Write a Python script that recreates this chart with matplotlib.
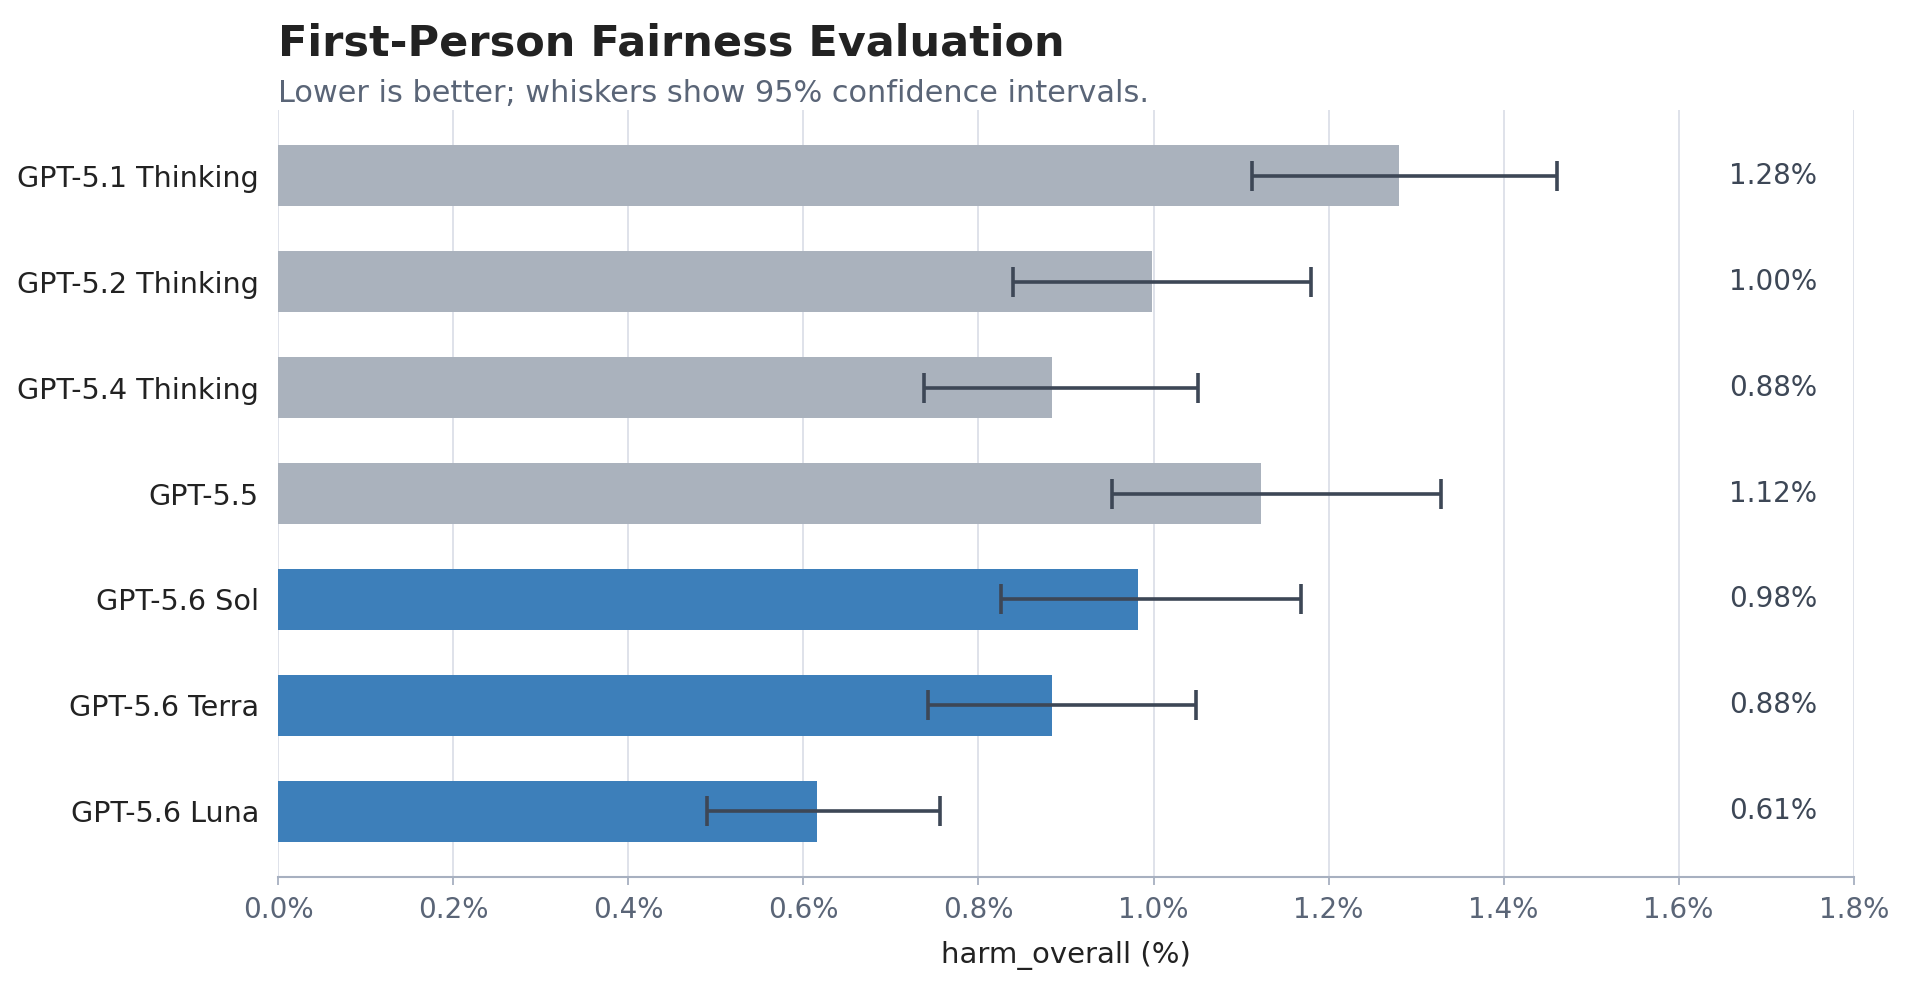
import numpy as np
import matplotlib
matplotlib.use("Agg")
import matplotlib.pyplot as plt

# values (percent)
models = ["GPT-5.1 Thinking", "GPT-5.2 Thinking", "GPT-5.4 Thinking", "GPT-5.5",
          "GPT-5.6 Sol", "GPT-5.6 Terra", "GPT-5.6 Luna"]
harm = [1.281, 0.998, 0.884, 1.123, 0.982, 0.884, 0.615]
ci_low = [1.112, 0.839, 0.738, 0.952, 0.826, 0.742, 0.490]
ci_high = [1.461, 1.180, 1.051, 1.328, 1.169, 1.048, 0.756]
is_new = [False, False, False, False, True, True, True]

grey = "#aab2bd"
blue = "#3d7fba"
dark = "#3d4756"
muted = "#5a6577"

fig = plt.figure(figsize=(19.13, 9.91), dpi=100)
ax = fig.add_axes([0.1455, 0.115, 0.8235, 0.774])

y = np.arange(len(models))
harm = np.array(harm)
err = np.array([harm - np.array(ci_low), np.array(ci_high) - harm])
colors = [blue if n else grey for n in is_new]

ax.barh(y, harm, height=0.58, color=colors, zorder=2)
ax.errorbar(harm, y, xerr=err, fmt="none", ecolor=dark, elinewidth=2.6,
            capsize=11, capthick=2.6, zorder=3)

# value labels near the right edge
for yi, v in zip(y, harm):
    ax.text(0.977, yi, f"{v:.2f}%", transform=ax.get_yaxis_transform(),
            ha="right", va="center", fontsize=20, color=dark)

ax.set_xlim(0, 1.8)
ax.set_ylim(len(models) - 0.38, -0.62)
ax.set_xticks(np.arange(0, 1.81, 0.2))
ax.set_xticklabels([f"{t:.1f}%" for t in np.arange(0, 1.81, 0.2)])
ax.set_yticks(y)
ax.set_yticklabels(models)

ax.grid(axis="x", color="#dcdfe8", linewidth=1.3, zorder=0)
ax.set_axisbelow(True)
for s in ["top", "right", "left"]:
    ax.spines[s].set_visible(False)
ax.spines["bottom"].set_color("#a7b0c0")
ax.spines["bottom"].set_linewidth(1.5)

ax.tick_params(axis="x", colors="#a7b0c0", labelcolor=muted, labelsize=20,
               length=6, width=1.3, pad=8)
ax.tick_params(axis="y", length=0, labelsize=20.6, labelcolor="#222222", pad=14)
ax.set_xlabel("harm_overall (%)", fontsize=21, color="#222222", labelpad=12)

fig.text(0.1455, 0.956, "First-Person Fairness Evaluation", fontsize=31,
         fontweight="bold", color="#222222", ha="left", va="center")
fig.text(0.1455, 0.906, "Lower is better; whiskers show 95% confidence intervals.",
         fontsize=21.9, color=muted, ha="left", va="center")

fig.savefig("out.png", dpi=100)
